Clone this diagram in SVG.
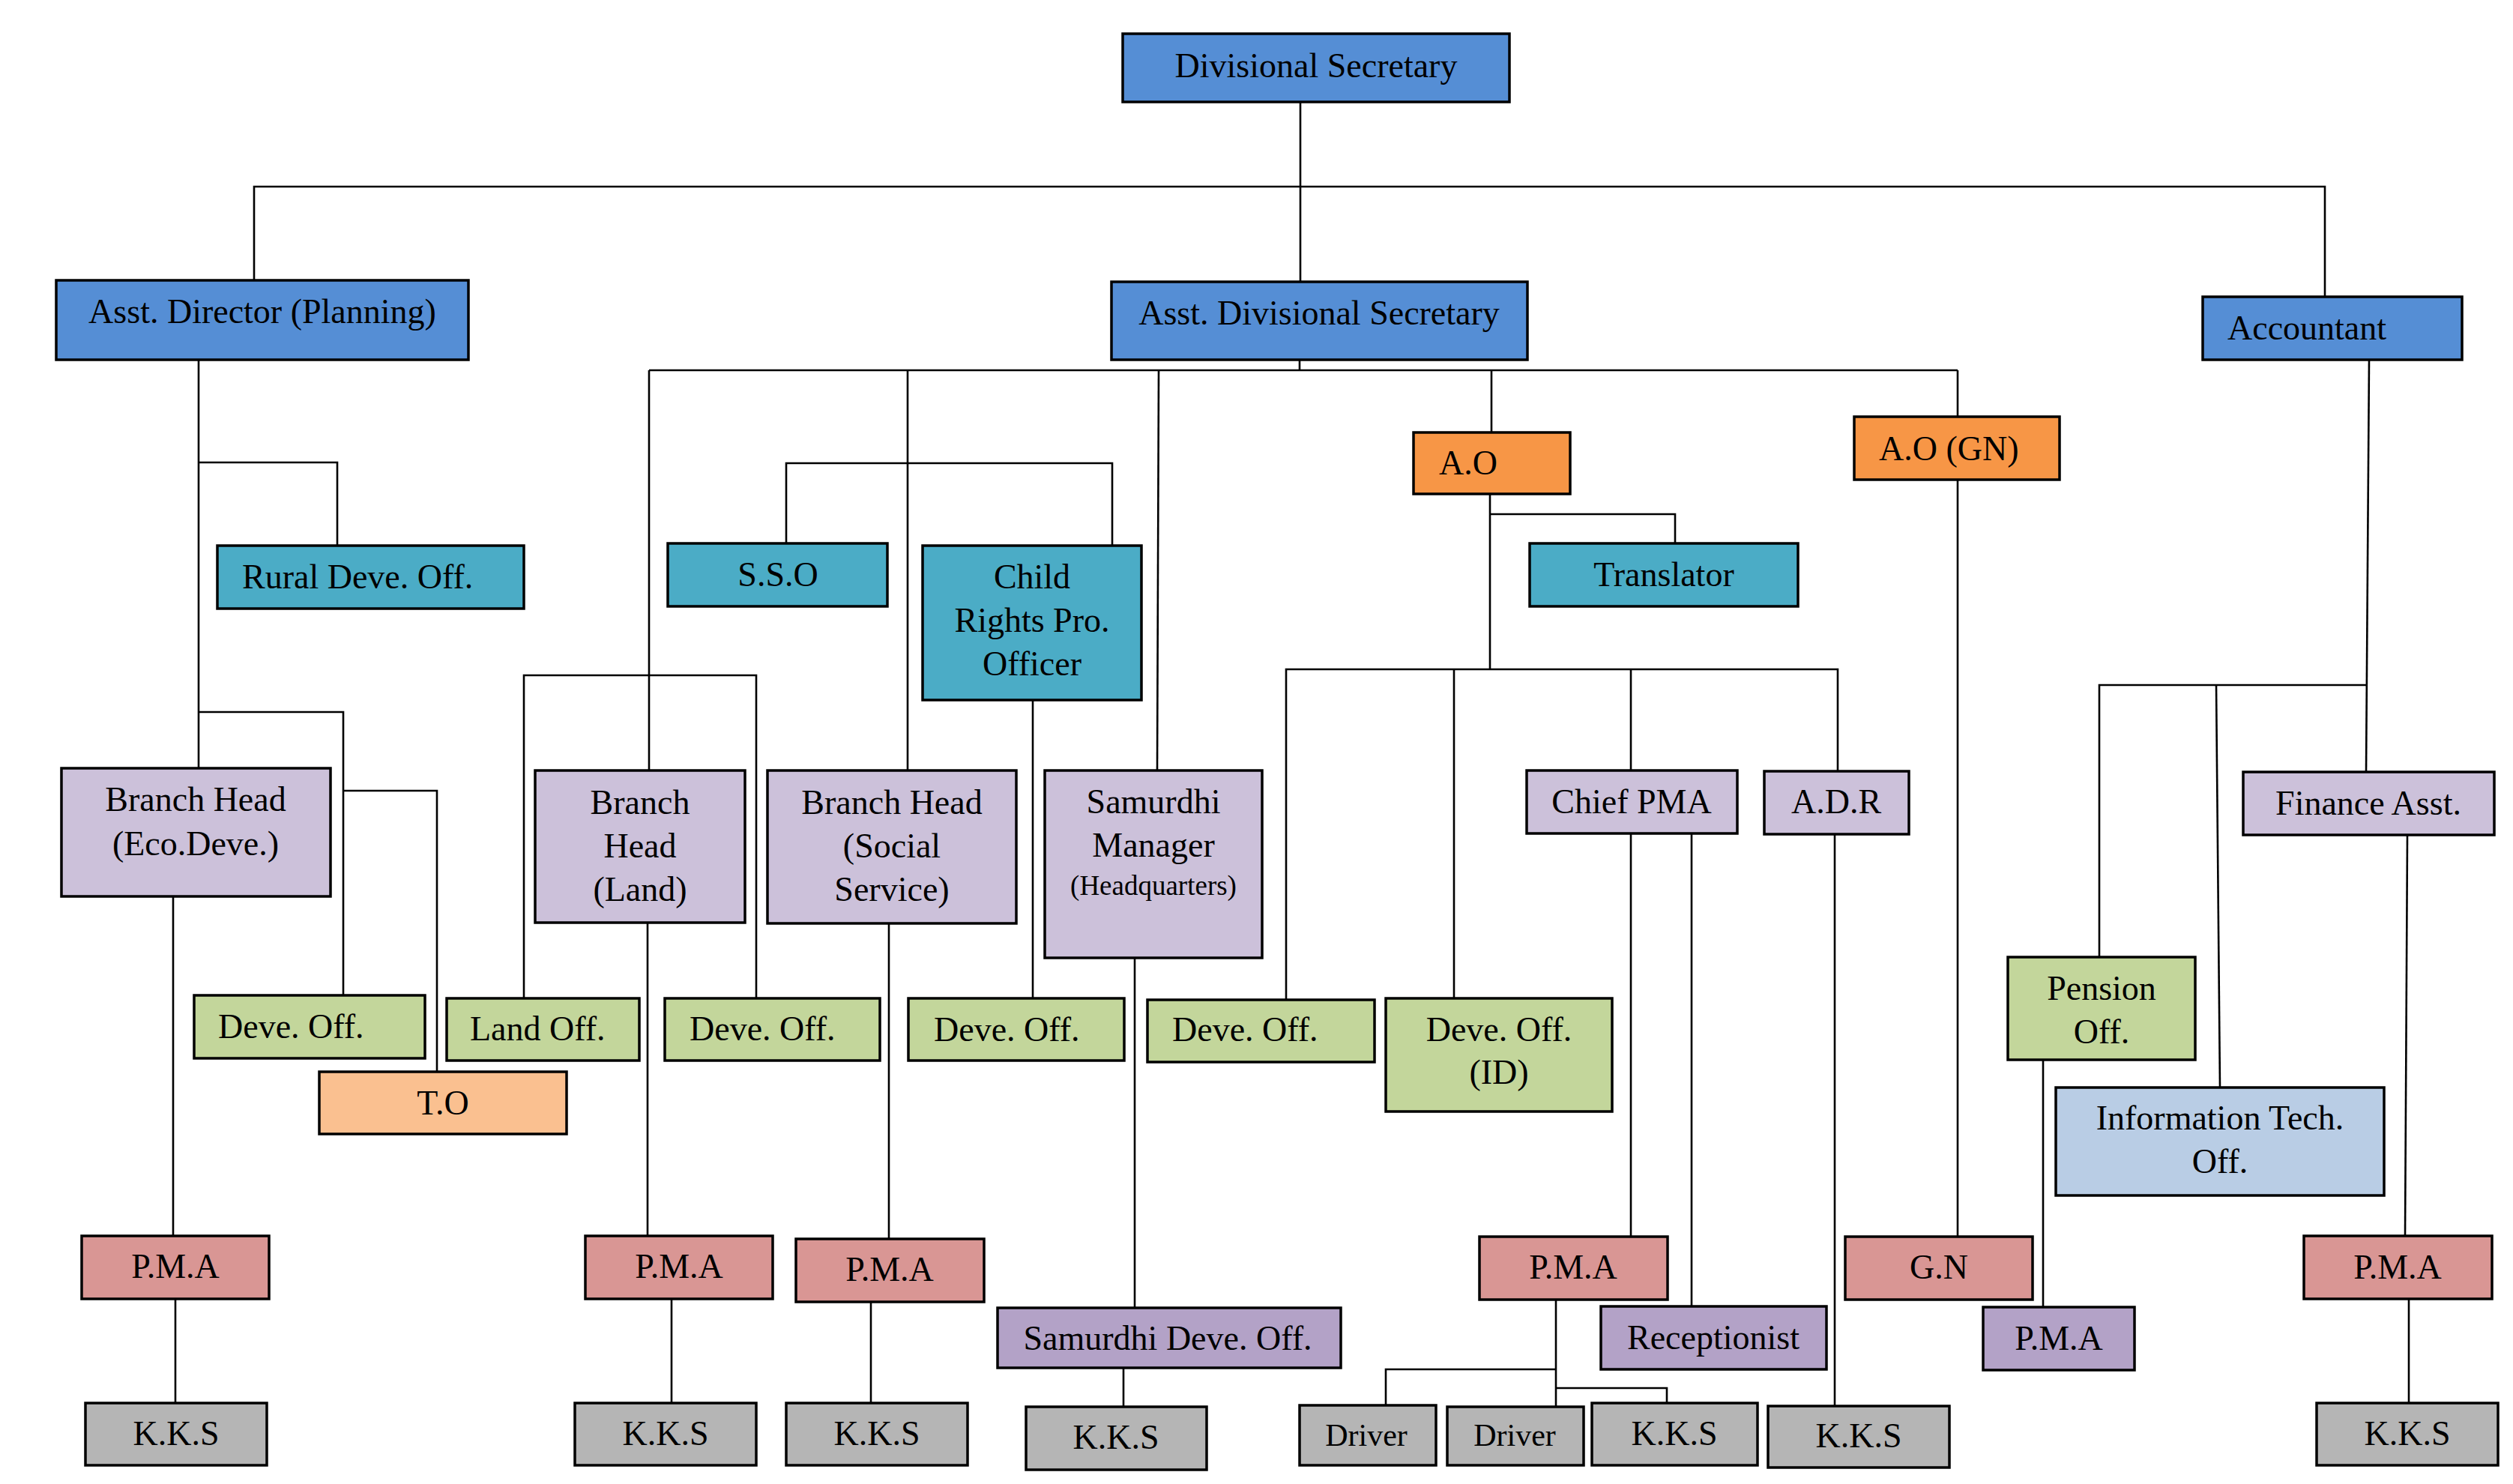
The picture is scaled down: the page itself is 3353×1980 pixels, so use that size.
<svg xmlns="http://www.w3.org/2000/svg" width="3353" height="1980" viewBox="0 0 3353 1980">
<style>
.b{stroke:#000;stroke-width:3.5}
.blue{fill:#558ED5}.teal{fill:#4BACC6}.org{fill:#F79646}.lav{fill:#CCC1DA}.grn{fill:#C3D69B}.pch{fill:#FAC090}.pnk{fill:#D99694}.gry{fill:#B5B5B5}.pur{fill:#B3A2C7}.lbl{fill:#B9CDE5}
text{font-family:"Liberation Serif","Times New Roman",serif;font-size:46px;fill:#000;text-anchor:middle}
text.s{text-anchor:start}
.sm{font-size:37px}
.dr{font-size:42px}
.c{fill:none;stroke:#000;stroke-width:2.6}
</style>
<rect width="3353" height="1980" fill="#fff"/>
<g id="connectors" class="c">
<path d="M1735,136V376"/>
<path d="M339,374V249H3102V396"/>
<path d="M1734,480V494"/>
<path d="M866,494H2612"/>
<path d="M866,494V1028"/>
<path d="M1211,494V1028"/>
<path d="M1546,494L1544,1028"/>
<path d="M1990,494V577"/>
<path d="M2612,494V556"/>
<path d="M1049,727V618H1484V728"/>
<path d="M265,480V1025"/>
<path d="M265,617H450V728"/>
<path d="M265,950H458V1328"/>
<path d="M458,1055H583V1430"/>
<path d="M699,1332V901H1009V1332"/>
<path d="M1378,934V1332"/>
<path d="M1988,659V893"/>
<path d="M1988,686H2235V725"/>
<path d="M1716,1334V893H2452V1029"/>
<path d="M1940,893V1332"/>
<path d="M2176,893V1028"/>
<path d="M3161,480L3157,1030"/>
<path d="M2801,1277V914H3157"/>
<path d="M2957,914L2962,1451"/>
<path d="M3212,1114L3209,1649"/>
<path d="M2726,1414V1744"/>
<path d="M2612,640V1650"/>
<path d="M231,1196V1649"/>
<path d="M234,1733V1872"/>
<path d="M864,1231V1649"/>
<path d="M896,1733V1872"/>
<path d="M1186,1232V1653"/>
<path d="M1162,1737V1872"/>
<path d="M1514,1278V1745"/>
<path d="M1499,1825V1877"/>
<path d="M2176,1112V1650"/>
<path d="M2257,1112V1743"/>
<path d="M2076,1734V1877"/>
<path d="M1849,1875V1827H2076"/>
<path d="M2076,1852H2224V1872"/>
<path d="M2448,1113V1876"/>
<path d="M3214,1733V1872"/>
</g>
<g id="divisional-secretary"><rect class="b blue" x="1498" y="45" width="516" height="91"/><text x="1756" y="103">Divisional Secretary</text></g>
<g id="asst-director"><rect class="b blue" x="75" y="374" width="550" height="106"/><text x="350" y="431">Asst. Director (Planning)</text></g>
<g id="asst-div-sec"><rect class="b blue" x="1483" y="376" width="555" height="104"/><text x="1760" y="433">Asst. Divisional Secretary</text></g>
<g id="accountant"><rect class="b blue" x="2939" y="396" width="346" height="84"/><text class="s" x="2972" y="453">Accountant</text></g>
<g id="ao"><rect class="b org" x="1886" y="577" width="209" height="82"/><text class="s" x="1920" y="633">A.O</text></g>
<g id="ao-gn"><rect class="b org" x="2474" y="556" width="274" height="84"/><text class="s" x="2507" y="614">A.O (GN)</text></g>
<g id="rural-deve"><rect class="b teal" x="290" y="728" width="409" height="84"/><text class="s" x="323" y="785">Rural Deve. Off.</text></g>
<g id="sso"><rect class="b teal" x="891" y="725" width="293" height="84"/><text x="1038" y="782">S.S.O</text></g>
<g id="child-rights"><rect class="b teal" x="1231" y="728" width="292" height="206"/><text x="1377" y="785">Child</text><text x="1377" y="843">Rights Pro.</text><text x="1377" y="901">Officer</text></g>
<g id="translator"><rect class="b teal" x="2041" y="725" width="358" height="84"/><text x="2220" y="782">Translator</text></g>
<g id="bh-eco"><rect class="b lav" x="82" y="1025" width="359" height="171"/><text x="261" y="1082">Branch Head</text><text x="261" y="1141">(Eco.Deve.)</text></g>
<g id="bh-land"><rect class="b lav" x="714" y="1028" width="280" height="203"/><text x="854" y="1086">Branch</text><text x="854" y="1144">Head</text><text x="854" y="1202">(Land)</text></g>
<g id="bh-social"><rect class="b lav" x="1024" y="1028" width="332" height="204"/><text x="1190" y="1086">Branch Head</text><text x="1190" y="1144">(Social</text><text x="1190" y="1202">Service)</text></g>
<g id="samurdhi-manager"><rect class="b lav" x="1394" y="1028" width="290" height="250"/><text x="1539" y="1085">Samurdhi</text><text x="1539" y="1143">Manager</text><text class="sm" x="1539" y="1194">(Headquarters)</text></g>
<g id="chief-pma"><rect class="b lav" x="2037" y="1028" width="281" height="84"/><text x="2177" y="1085">Chief PMA</text></g>
<g id="adr"><rect class="b lav" x="2354" y="1029" width="193" height="84"/><text x="2450" y="1085">A.D.R</text></g>
<g id="finance-asst"><rect class="b lav" x="2993" y="1030" width="335" height="84"/><text x="3160" y="1087">Finance Asst.</text></g>
<g id="deve-off-1"><rect class="b grn" x="259" y="1328" width="308" height="84"/><text class="s" x="291" y="1385">Deve. Off.</text></g>
<g id="land-off"><rect class="b grn" x="596" y="1332" width="257" height="83"/><text class="s" x="627" y="1388">Land Off.</text></g>
<g id="deve-off-2"><rect class="b grn" x="887" y="1332" width="287" height="83"/><text class="s" x="920" y="1388">Deve. Off.</text></g>
<g id="to"><rect class="b pch" x="426" y="1430" width="330" height="83"/><text x="591" y="1487">T.O</text></g>
<g id="deve-off-3"><rect class="b grn" x="1212" y="1332" width="288" height="83"/><text class="s" x="1246" y="1389">Deve. Off.</text></g>
<g id="deve-off-4"><rect class="b grn" x="1531" y="1334" width="303" height="83"/><text class="s" x="1564" y="1389">Deve. Off.</text></g>
<g id="deve-off-id"><rect class="b grn" x="1849" y="1332" width="302" height="151"/><text x="2000" y="1389">Deve. Off.</text><text x="2000" y="1446">(ID)</text></g>
<g id="pension-off"><rect class="b grn" x="2679" y="1277" width="250" height="137"/><text x="2804" y="1334">Pension</text><text x="2804" y="1392">Off.</text></g>
<g id="info-tech"><rect class="b lbl" x="2743" y="1451" width="438" height="144"/><text x="2962" y="1507">Information Tech.</text><text x="2962" y="1565">Off.</text></g>
<g id="pma-1"><rect class="b pnk" x="109" y="1649" width="250" height="84"/><text x="234" y="1705">P.M.A</text></g>
<g id="pma-2"><rect class="b pnk" x="781" y="1649" width="250" height="84"/><text x="906" y="1705">P.M.A</text></g>
<g id="pma-3"><rect class="b pnk" x="1062" y="1653" width="251" height="84"/><text x="1187" y="1709">P.M.A</text></g>
<g id="pma-4"><rect class="b pnk" x="1974" y="1650" width="251" height="84"/><text x="2099" y="1706">P.M.A</text></g>
<g id="gn"><rect class="b pnk" x="2462" y="1650" width="250" height="84"/><text x="2587" y="1706">G.N</text></g>
<g id="pma-5"><rect class="b pnk" x="3074" y="1649" width="251" height="84"/><text x="3199" y="1706">P.M.A</text></g>
<g id="samurdhi-deve"><rect class="b pur" x="1331" y="1745" width="458" height="80"/><text x="1558" y="1801">Samurdhi Deve. Off.</text></g>
<g id="receptionist"><rect class="b pur" x="2136" y="1743" width="301" height="84"/><text x="2286" y="1800">Receptionist</text></g>
<g id="pma-6"><rect class="b pur" x="2646" y="1744" width="202" height="84"/><text x="2747" y="1801">P.M.A</text></g>
<g id="kks-1"><rect class="b gry" x="114" y="1872" width="242" height="83"/><text x="235" y="1928">K.K.S</text></g>
<g id="kks-2"><rect class="b gry" x="767" y="1872" width="242" height="83"/><text x="888" y="1928">K.K.S</text></g>
<g id="kks-3"><rect class="b gry" x="1049" y="1872" width="242" height="83"/><text x="1170" y="1928">K.K.S</text></g>
<g id="kks-4"><rect class="b gry" x="1369" y="1877" width="241" height="84"/><text x="1489" y="1933">K.K.S</text></g>
<g id="driver-1"><rect class="b gry" x="1734" y="1875" width="182" height="80"/><text class="dr" x="1823" y="1929">Driver</text></g>
<g id="driver-2"><rect class="b gry" x="1931" y="1877" width="182" height="78"/><text class="dr" x="2021" y="1929">Driver</text></g>
<g id="kks-5"><rect class="b gry" x="2124" y="1872" width="221" height="83"/><text x="2234" y="1928">K.K.S</text></g>
<g id="kks-6"><rect class="b gry" x="2359" y="1876" width="242" height="82"/><text x="2480" y="1931">K.K.S</text></g>
<g id="kks-7"><rect class="b gry" x="3091" y="1872" width="242" height="83"/><text x="3212" y="1928">K.K.S</text></g>
</svg>
